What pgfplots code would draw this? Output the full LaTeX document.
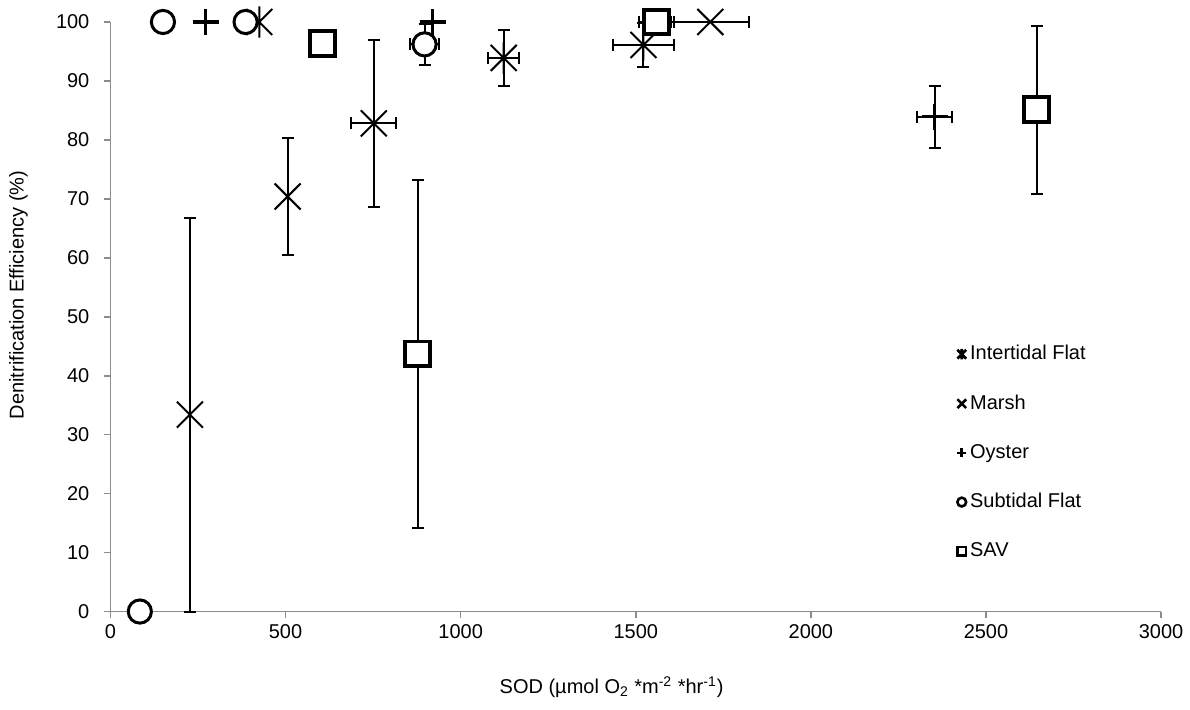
\documentclass[border=0pt]{standalone}
\usepackage{fontspec}
\setmainfont{Liberation Sans}
\usepackage{pgfplots}
\pgfplotsset{compat=1.18}
\definecolor{axgray}{RGB}{140,140,140}

% X with arms reaching the full mark size
\pgfdeclareplotmark{bigx}{%
  \pgfpathmoveto{\pgfqpoint{-\pgfplotmarksize}{-\pgfplotmarksize}}%
  \pgfpathlineto{\pgfqpoint{\pgfplotmarksize}{\pgfplotmarksize}}%
  \pgfpathmoveto{\pgfqpoint{-\pgfplotmarksize}{\pgfplotmarksize}}%
  \pgfpathlineto{\pgfqpoint{\pgfplotmarksize}{-\pgfplotmarksize}}%
  \pgfusepathqstroke}
% Excel "star": X plus a vertical stroke
\pgfdeclareplotmark{xstar}{%
  \pgfpathmoveto{\pgfqpoint{-\pgfplotmarksize}{-\pgfplotmarksize}}%
  \pgfpathlineto{\pgfqpoint{\pgfplotmarksize}{\pgfplotmarksize}}%
  \pgfpathmoveto{\pgfqpoint{-\pgfplotmarksize}{\pgfplotmarksize}}%
  \pgfpathlineto{\pgfqpoint{\pgfplotmarksize}{-\pgfplotmarksize}}%
  \pgfpathmoveto{\pgfqpoint{0pt}{1.2\pgfplotmarksize}}%
  \pgfpathlineto{\pgfqpoint{0pt}{-1.2\pgfplotmarksize}}%
  \pgfusepathqstroke}

\pgfplotsset{
  % error-bar-only plots, drawn before the markers
  ebcommon/.style={forget plot, draw=none, mark=none,
    /pgfplots/error bars/error bar style={draw=black, solid, line width=1pt},
    /pgfplots/error bars/error mark options={rotate=90, draw=black, solid, line width=1pt, mark size=3pt}},
  ebxy/.style={ebcommon,
    /pgfplots/error bars/x dir=both, /pgfplots/error bars/x explicit,
    /pgfplots/error bars/y dir=both, /pgfplots/error bars/y explicit},
  eby/.style={ebcommon,
    /pgfplots/error bars/y dir=both, /pgfplots/error bars/y explicit},
  ebx/.style={ebcommon,
    /pgfplots/error bars/x dir=both, /pgfplots/error bars/x explicit},
  % marker styles
  tidal/.style={only marks, mark=xstar, mark size=6.5pt, line width=1pt},
  marsh/.style={only marks, mark=bigx, mark size=6.5pt, line width=1pt},
  oyster/.style={only marks, mark=+, mark size=6.5pt, mark options={line width=1.6pt}},
  subtidal/.style={only marks, mark=*, mark size=5.8pt, mark options={line width=1.5pt, draw=black, fill=white}},
  sav/.style={only marks, mark=square*, mark size=6.2pt, mark options={line width=2pt, draw=black, fill=white}},
}

\begin{document}
\begin{tikzpicture}
\begin{axis}[
  scale only axis,
  width=525.75pt, height=295pt,
  xmin=0, xmax=3000, ymin=0, ymax=100,
  xtick={0,500,...,3000},
  ytick={0,10,...,100},
  axis lines=left,
  axis line style={-, axgray, line width=0.8pt},
  tick style={axgray, line width=0.8pt},
  tick align=outside,
  major tick length=3pt,
  font=\fontsize{10}{12}\selectfont,
  /pgf/number format/assume math mode=true,
  /pgf/number format/1000 sep={},
  yticklabel style={xshift=-4pt},
  clip=false,
  xlabel={SOD (µmol O\textsubscript{2} *m\textsuperscript{-2} *hr\textsuperscript{-1})},
  ylabel={Denitrification Efficiency (\%)},
  xlabel style={at={(rel axis cs:0.477,-0.1288)}, anchor=center, inner sep=0pt},
  ylabel style={at={(rel axis cs:-0.0875,0.537)}, anchor=center, inner sep=0pt},
  legend style={at={(rel axis cs:0.80,0.4655)}, anchor=north west,
    draw=none, fill=none, row sep=12pt,
    font=\fontsize{10}{12}\selectfont},
  legend cell align=left,
  legend image code/.code={%
    \draw[#1, mark size=2.2pt, mark options={line width=1.3pt, draw=black, fill=white}]
      plot coordinates {(0cm,0cm)};},
]

% ---- error bars ----
\addplot[ebxy] coordinates {
  (1123,93.9) +- (44,4.7)
  (1522,96.1) +- (88,3.7)
  (752,82.8) +- (64,14.1)
  (2354,83.9) +- (50,5.3)
  (897,96.2) +- (42,3.5)
  (877,43.7) +- (18,29.5)
};
\addplot[eby] coordinates {
  (227,33.4) +- (0,33.4)
  (506,70.4) +- (0,9.9)
  (2645,85.1) +- (0,14.2)
};
\addplot[ebx] coordinates {
  (1713,100) +- (111,0)
  (1560,100) +- (50,0)
};

% ---- markers ----
\addplot[tidal] coordinates {(425,100) (1123,93.9) (1522,96.1)};
\addlegendentry{Intertidal Flat}

\addplot[marsh] coordinates {(227,33.4) (506,70.4) (752,82.8) (1713,100)};
\addlegendentry{Marsh}

\addplot[oyster] coordinates {(272,100) (920,100) (2354,83.9)};
\addlegendentry{Oyster}

\addplot[subtidal] coordinates {(84,0) (150,100) (386,100) (897,96.2)};
\addlegendentry{Subtidal Flat}

\addplot[sav] coordinates {(606,96.3) (877,43.7) (1560,100) (2645,85.1)};
\addlegendentry{SAV}

\end{axis}
\path ([shift={(-55.25pt,-49pt)}]current axis.south west)
  rectangle ([shift={(14pt,11pt)}]current axis.north east);
\end{tikzpicture}
\end{document}
